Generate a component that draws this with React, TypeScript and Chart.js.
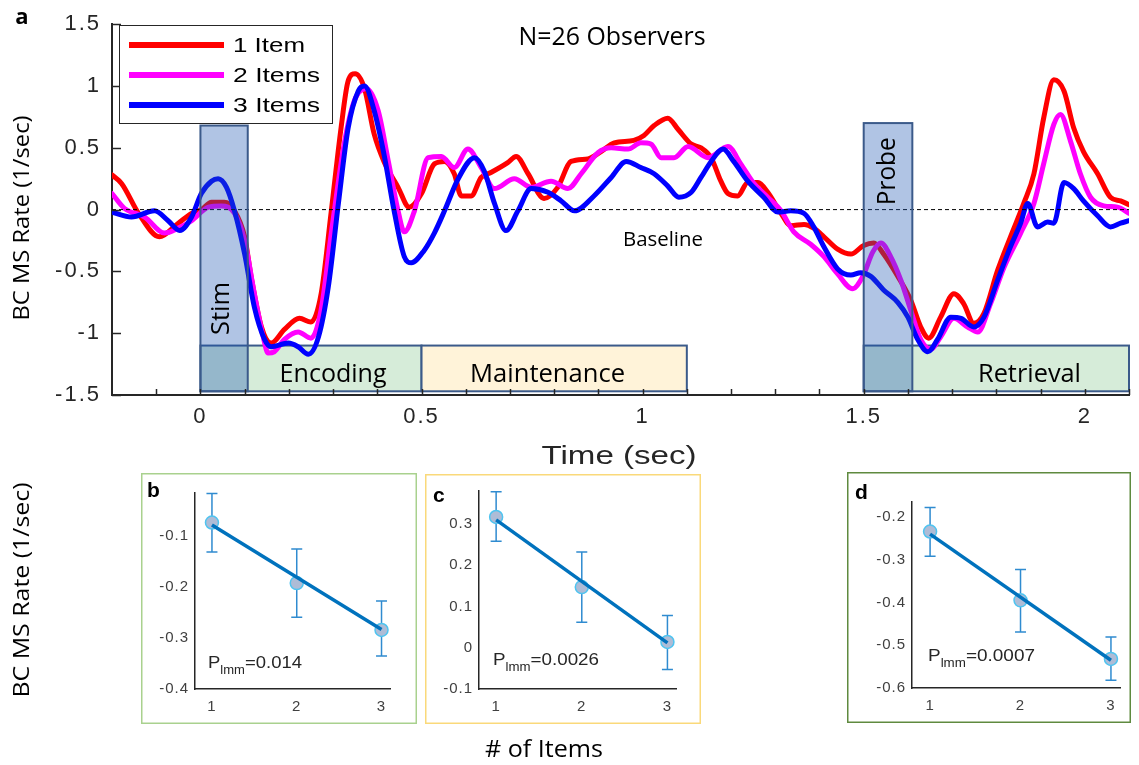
import React, { useEffect, useRef } from 'react';
import { Chart, registerables } from 'chart.js';
Chart.register(...registerables);

// ---------- main panel data ----------
const seriesLabels = ['1 Item', '2 Items', '3 Items'];
const seriesColors = ['#ff0000', '#ff00ff', '#0000ff'];

const time1 = [-0.2,-0.178,-0.14,-0.093,-0.05,-0.02,0.002,0.025,0.054,0.077,0.1,0.115,0.138,0.16,0.19,0.224,0.25,0.273,0.296,0.318,0.334,0.35,0.371,0.393,0.415,0.447,0.472,0.5,0.529,0.552,0.574,0.59,0.612,0.635,0.657,0.695,0.714,0.741,0.777,0.808,0.838,0.876,0.906,0.936,0.98,1.003,1.026,1.057,1.08,1.11,1.132,1.155,1.177,1.193,1.215,1.238,1.261,1.283,1.313,1.335,1.365,1.387,1.41,1.441,1.471,1.5,1.523,1.545,1.577,1.606,1.629,1.647,1.674,1.704,1.726,1.749,1.772,1.803,1.832,1.862,1.885,1.907,1.93,1.953,1.975,1.997,2.029,2.058,2.081,2.1];
const rate1 = [0.28,0.21,-0.03,-0.22,-0.11,-0.03,0.0,0.06,0.06,-0.01,-0.22,-0.55,-0.95,-1.08,-0.97,-0.88,-0.91,-0.68,-0.01,0.66,1.04,1.10,0.98,0.61,0.39,0.18,0.02,0.13,0.37,0.39,0.29,0.11,0.11,0.26,0.30,0.38,0.43,0.29,0.09,0.18,0.39,0.41,0.47,0.54,0.56,0.60,0.68,0.74,0.65,0.53,0.50,0.42,0.23,0.13,0.11,0.22,0.22,0.14,-0.03,-0.13,-0.12,-0.15,-0.22,-0.32,-0.36,-0.29,-0.27,-0.36,-0.54,-0.73,-0.95,-1.04,-0.87,-0.68,-0.76,-0.92,-0.84,-0.49,-0.22,0.05,0.29,0.74,1.05,0.96,0.66,0.47,0.29,0.10,0.07,0.04];

const time2 = [-0.2,-0.172,-0.126,-0.081,-0.05,-0.02,0.018,0.047,0.077,0.1,0.122,0.142,0.153,0.167,0.19,0.221,0.25,0.273,0.296,0.325,0.348,0.375,0.402,0.425,0.447,0.461,0.484,0.515,0.545,0.574,0.605,0.635,0.665,0.71,0.748,0.793,0.831,0.861,0.899,0.929,0.967,0.996,1.019,1.042,1.071,1.103,1.148,1.193,1.222,1.252,1.283,1.313,1.342,1.38,1.41,1.441,1.475,1.498,1.521,1.539,1.561,1.584,1.606,1.629,1.652,1.674,1.704,1.735,1.758,1.787,1.817,1.855,1.885,1.907,1.93,1.945,1.968,1.99,2.013,2.043,2.074,2.1];
const rate2 = [0.13,0.01,-0.06,-0.19,-0.15,-0.09,0.02,0.03,-0.03,-0.25,-0.68,-1.03,-1.16,-1.15,-1.05,-0.99,-1.04,-0.81,-0.19,0.53,0.88,0.98,0.80,0.39,-0.01,-0.18,-0.01,0.42,0.43,0.34,0.49,0.34,0.17,0.25,0.18,0.23,0.17,0.29,0.46,0.50,0.49,0.54,0.53,0.42,0.42,0.51,0.42,0.51,0.37,0.21,0.10,-0.01,-0.18,-0.28,-0.38,-0.52,-0.64,-0.54,-0.34,-0.27,-0.38,-0.57,-0.81,-1.05,-1.13,-1.03,-0.88,-0.95,-0.99,-0.76,-0.47,-0.19,0.05,0.37,0.69,0.77,0.55,0.29,0.10,0.03,0.02,-0.03];

const time3 = [-0.2,-0.156,-0.104,-0.073,-0.047,-0.02,0.002,0.025,0.04,0.059,0.077,0.1,0.122,0.145,0.16,0.199,0.221,0.244,0.267,0.289,0.312,0.334,0.357,0.371,0.393,0.415,0.438,0.461,0.477,0.506,0.529,0.552,0.583,0.62,0.642,0.665,0.691,0.718,0.748,0.786,0.816,0.846,0.89,0.929,0.963,0.996,1.026,1.057,1.082,1.11,1.132,1.155,1.182,1.206,1.238,1.274,1.306,1.335,1.365,1.387,1.41,1.441,1.471,1.493,1.516,1.545,1.577,1.6,1.622,1.645,1.667,1.697,1.72,1.749,1.772,1.803,1.832,1.855,1.871,1.893,1.916,1.93,1.953,1.975,1.997,2.029,2.058,2.081,2.1];
const rate3 = [-0.02,-0.06,-0.01,-0.09,-0.17,-0.06,0.13,0.23,0.25,0.18,-0.01,-0.36,-0.79,-1.05,-1.11,-1.08,-1.11,-1.17,-1.03,-0.63,0.05,0.66,0.96,1.0,0.80,0.45,-0.01,-0.38,-0.43,-0.33,-0.19,-0.01,0.25,0.42,0.31,0.05,-0.17,-0.01,0.17,0.14,0.07,-0.01,0.11,0.26,0.39,0.34,0.29,0.19,0.10,0.14,0.26,0.39,0.49,0.39,0.23,0.10,-0.02,-0.01,-0.03,-0.14,-0.30,-0.48,-0.53,-0.51,-0.54,-0.65,-0.75,-0.87,-1.05,-1.15,-1.05,-0.87,-0.88,-0.95,-0.87,-0.57,-0.30,-0.11,0.05,-0.14,-0.10,-0.11,0.22,0.17,0.07,-0.05,-0.14,-0.11,-0.09];

const mainXRange = [-0.2, 2.1];
const mainYRange = [-1.5, 1.5];
const mainXTicks = [0, 0.5, 1, 1.5, 2];
const mainYTicks = [-1.5, -1, -0.5, 0, 0.5, 1, 1.5];
const baselineValue = 0;

// task epochs
const epochNames = ['Stim', 'Probe', 'Encoding', 'Maintenance', 'Retrieval'];
const epochStart = [0, 1.5, 0, 0.5, 1.5];
const epochEnd = [0.107, 1.61, 0.5, 1.1, 2.1];
const epochTop = [0.68, 0.7, -1.1, -1.1, -1.1];
const epochBottom = -1.47;
const epochLabelX = [0.048, 1.554, 0.3, 0.785, 1.875];
const epochLabelY = [-0.8, 0.31, -1.335, -1.335, -1.335];

// ---------- small panels data ----------
const itemCounts = [1, 2, 3];
const fitX = [1, 3];
const bMean = [-0.073, -0.192, -0.284];
const bLow = [-0.131, -0.259, -0.335];
const bHigh = [-0.016, -0.125, -0.227];
const bFit = [-0.078, -0.283];
const bTicks = [-0.4, -0.3, -0.2, -0.1];

const cMean = [0.317, 0.147, 0.014];
const cLow = [0.258, 0.062, -0.053];
const cHigh = [0.378, 0.232, 0.078];
const cFit = [0.31, 0.012];
const cTicks = [-0.1, 0, 0.1, 0.2, 0.3];

const dMean = [-0.234, -0.395, -0.532];
const dLow = [-0.292, -0.469, -0.582];
const dHigh = [-0.178, -0.323, -0.481];
const dFit = [-0.24, -0.535];
const dTicks = [-0.6, -0.5, -0.4, -0.3, -0.2];

const SANS = '"Liberation Sans", Arial, sans-serif';
const CAL = '"Open Sans", sans-serif';

function drawText(ctx: any, text: string, x: number, y: number, o: any) {
  ctx.save();
  try { ctx.letterSpacing = '0px'; } catch (e) {}
  ctx.font = o.font;
  ctx.fillStyle = o.color || '#000';
  ctx.textBaseline = o.baseline || 'middle';
  ctx.textAlign = 'left';
  ctx.translate(x, y);
  if (o.rotate) ctx.rotate(o.rotate);
  const w = ctx.measureText(text).width;
  const sx = o.width ? o.width / w : 1;
  ctx.scale(sx, 1);
  const align = o.align || 'center';
  const off = align === 'center' ? -w / 2 : align === 'right' ? -w : 0;
  ctx.fillText(text, off, 0);
  ctx.restore();
}

const BOX_STROKE = '#3b5a8a';

const mainPlugin = {
  id: 'mainDeco',
  beforeDraw(chart: any) {
    try { chart.ctx.letterSpacing = '2px'; } catch (e) {}
  },
  beforeDatasetsDraw(chart: any) {
    const { ctx, scales } = chart;
    const x = scales.x, y = scales.y;
    const fills: any = { Encoding: '#d6ecd9', Maintenance: '#fff3d9', Retrieval: '#d6ecd9' };
    ctx.save();
    for (let i = 2; i < epochNames.length; i++) {
      const l = x.getPixelForValue(epochStart[i]);
      const r = x.getPixelForValue(epochEnd[i]);
      const t = y.getPixelForValue(epochTop[i]);
      const b = y.getPixelForValue(epochBottom);
      ctx.fillStyle = fills[epochNames[i]];
      ctx.fillRect(l, t, r - l, b - t);
      ctx.strokeStyle = BOX_STROKE;
      ctx.lineWidth = 2;
      ctx.strokeRect(l, t, r - l, b - t);
    }
    ctx.restore();
  },
  afterDatasetsDraw(chart: any) {
    const { ctx, scales } = chart;
    const x = scales.x, y = scales.y;
    ctx.save();
    for (let i = 0; i < 2; i++) {
      const l = x.getPixelForValue(epochStart[i]);
      const r = x.getPixelForValue(epochEnd[i]);
      const t = y.getPixelForValue(epochTop[i]);
      const b = y.getPixelForValue(epochBottom);
      ctx.fillStyle = 'rgba(29,86,178,0.35)';
      ctx.fillRect(l, t, r - l, b - t);
      ctx.strokeStyle = BOX_STROKE;
      ctx.lineWidth = 2;
      ctx.strokeRect(l, t, r - l, b - t);
    }
    ctx.restore();
    // epoch labels
    const labelW: any = { Stim: 53, Probe: 68, Encoding: 107, Maintenance: 155, Retrieval: 103 };
    epochNames.forEach((n, i) => {
      drawText(ctx, n, x.getPixelForValue(epochLabelX[i]), y.getPixelForValue(epochLabelY[i]), {
        font: `25px ${CAL}`, color: '#000', width: labelW[n], rotate: i < 2 ? -Math.PI / 2 : 0,
      });
    });
    // inward ticks
    ctx.save();
    ctx.strokeStyle = '#262626';
    ctx.lineWidth = 1.5;
    const bottom = chart.chartArea.bottom, left = chart.chartArea.left;
    for (let v = mainXRange[0] + 0.1; v <= mainXRange[1] + 1e-6; v += 0.1) {
      const px = Math.round(x.getPixelForValue(v)) + 0.5;
      ctx.beginPath(); ctx.moveTo(px, bottom); ctx.lineTo(px, bottom - 6); ctx.stroke();
    }
    mainYTicks.forEach((v) => {
      const py = Math.round(y.getPixelForValue(v)) + 0.5;
      ctx.beginPath(); ctx.moveTo(left, py); ctx.lineTo(left + 9, py); ctx.stroke();
    });
    ctx.restore();
    // legend
    ctx.save();
    ctx.fillStyle = '#fff';
    ctx.fillRect(119, 25, 213, 98);
    ctx.strokeStyle = '#262626';
    ctx.lineWidth = 1;
    ctx.strokeRect(119.5, 25.5, 213, 98);
    const legendW = [72, 87, 87];
    chart.data.datasets.slice(0, 3).forEach((ds: any, i: number) => {
      const ly = 45 + i * 30;
      ctx.strokeStyle = ds.borderColor;
      ctx.lineWidth = 6;
      ctx.beginPath(); ctx.moveTo(129, ly); ctx.lineTo(224, ly); ctx.stroke();
      drawText(ctx, ds.label, 233, ly + 1, { font: `21px ${SANS}`, color: '#000', width: legendW[i], align: 'left' });
    });
    ctx.restore();
    // texts
    drawText(ctx, 'N=26 Observers', 612, 38, { font: `25px ${CAL}`, width: 187 });
    drawText(ctx, 'Baseline', 663, 240, { font: `20px ${CAL}`, width: 80 });
  },
  afterDraw(chart: any) {
    const { ctx } = chart;
    drawText(ctx, 'a', 22, 18, { font: `bold 22px ${CAL}` });
    drawText(ctx, 'BC MS Rate (1/sec)', 23, 218, { font: `22px ${CAL}`, width: 205, rotate: -Math.PI / 2 });
    drawText(ctx, 'Time (sec)', 619, 457, { font: `26px ${SANS}`, width: 155, color: '#262626' });
    drawText(ctx, 'BC MS Rate (1/sec)', 23, 590, { font: `22px ${CAL}`, width: 215, rotate: -Math.PI / 2 });
    drawText(ctx, '# of Items', 544, 750, { font: `24px ${CAL}`, width: 118 });
    try { ctx.letterSpacing = '0px'; } catch (e) {}
  },
};

function zip(xs: number[], ys: number[]) {
  return xs.map((v, i) => ({ x: v, y: ys[i] }));
}

function mainConfig(): any {
  const times = [time1, time2, time3];
  const rates = [rate1, rate2, rate3];
  const datasets: any[] = seriesLabels.map((lab, i) => ({
    label: lab,
    data: zip(times[i], rates[i]),
    borderColor: seriesColors[i],
    borderWidth: 5,
    pointRadius: 0,
    cubicInterpolationMode: 'monotone',
    borderJoinStyle: 'round',
    borderCapStyle: 'round',
    order: 3 - i,
  }));
  datasets.push({
    label: 'Baseline',
    data: zip(mainXRange, [baselineValue, baselineValue]),
    borderColor: '#000',
    borderWidth: 1,
    borderDash: [4, 3],
    pointRadius: 0,
    order: 0,
  });
  return {
    type: 'line',
    data: { datasets },
    options: {
      responsive: false,
      animation: false,
      events: [],
      layout: { padding: { top: 22, right: 10, left: 0, bottom: 0 } },
      plugins: { legend: { display: false }, tooltip: { enabled: false }, title: { display: false } },
      scales: {
        x: {
          type: 'linear', min: mainXRange[0], max: mainXRange[1],
          afterBuildTicks: (s: any) => { s.ticks = mainXTicks.map((v) => ({ value: v })); },
          afterFit: (s: any) => { s.height = 765 - 395; },
          grid: { display: false, drawTicks: false },
          border: { display: true, color: '#262626', width: 2 },
          ticks: { color: '#262626', font: { family: SANS, size: 22 }, padding: 9, maxRotation: 0, autoSkip: false, callback: (v: any) => String(v) },
        },
        y: {
          type: 'linear', min: mainYRange[0], max: mainYRange[1],
          afterBuildTicks: (s: any) => { s.ticks = mainYTicks.map((v) => ({ value: v })); },
          afterFit: (s: any) => { s.width = 112; },
          grid: { display: false, drawTicks: false },
          border: { display: true, color: '#262626', width: 2 },
          ticks: { color: '#262626', font: { family: SANS, size: 22 }, padding: 11, autoSkip: false, callback: (v: any) => String(v) },
        },
      },
    },
    plugins: [mainPlugin],
  };
}

function panelConfig(p: any): any {
  const plugin = {
    id: 'panel' + p.letter,
    beforeDraw(chart: any) {
      try { chart.ctx.letterSpacing = '1px'; } catch (e) {}
    },
    beforeDatasetsDraw(chart: any) {
      const { ctx, scales } = chart;
      ctx.save();
      ctx.strokeStyle = '#2f8bd0';
      ctx.lineWidth = 1.5;
      itemCounts.forEach((c, i) => {
        const px = scales.x.getPixelForValue(c);
        const lo = scales.y.getPixelForValue(p.low[i]);
        const hi = scales.y.getPixelForValue(p.high[i]);
        ctx.beginPath();
        ctx.moveTo(px, lo); ctx.lineTo(px, hi);
        ctx.moveTo(px - 5.5, lo); ctx.lineTo(px + 5.5, lo);
        ctx.moveTo(px - 5.5, hi); ctx.lineTo(px + 5.5, hi);
        ctx.stroke();
      });
      ctx.restore();
    },
    afterDraw(chart: any) {
      const { ctx, width, height } = chart;
      ctx.save();
      try { ctx.letterSpacing = '0px'; } catch (e) {}
      ctx.strokeStyle = p.frame;
      ctx.lineWidth = 1.5;
      ctx.strokeRect(0.75, 0.75, width - 1.5, height - 1.5);
      ctx.restore();
      drawText(ctx, p.letter, p.letterPos[0], p.letterPos[1], { font: `bold 21px ${SANS}`, align: 'left' });
      // P_lmm text
      ctx.save();
      try { ctx.letterSpacing = '0px'; } catch (e) {}
      const big = `17px ${SANS}`, small = `12px ${SANS}`;
      ctx.font = big; const w1 = ctx.measureText('P').width;
      const w3 = ctx.measureText(p.pval).width;
      ctx.font = small; const w2 = ctx.measureText('lmm').width;
      const total = w1 + w2 + w3;
      const sx = p.pWidth / total;
      ctx.translate(p.pPos[0], p.pPos[1]);
      ctx.scale(sx, 1);
      ctx.fillStyle = '#262626';
      ctx.textBaseline = 'alphabetic';
      ctx.textAlign = 'left';
      ctx.font = big; ctx.fillText('P', 0, 0);
      ctx.font = small; ctx.fillText('lmm', w1, 6);
      ctx.font = big; ctx.fillText(p.pval, w1 + w2, 0);
      ctx.restore();
      try { ctx.letterSpacing = '0px'; } catch (e) {}
    },
  };
  return {
    type: 'line',
    data: {
      datasets: [
        { data: zip(fitX, p.fit), borderColor: '#0072bd', borderWidth: 3.5, pointRadius: 0, order: 0 },
        {
          data: zip(itemCounts, p.mean), showLine: false, pointRadius: 6.5,
          pointBackgroundColor: '#aebcd6', pointBorderColor: '#4fc4f0', pointBorderWidth: 1.5, order: 1,
        },
      ],
    },
    options: {
      responsive: false,
      animation: false,
      events: [],
      layout: { padding: { top: p.padTop, right: p.padRight, left: 0, bottom: 0 } },
      plugins: { legend: { display: false }, tooltip: { enabled: false } },
      scales: {
        x: {
          type: 'linear', min: 0.8, max: 3.1,
          afterBuildTicks: (s: any) => { s.ticks = itemCounts.map((v) => ({ value: v })); },
          afterFit: (s: any) => { s.height = p.bottomSpace; },
          grid: { display: false, drawTicks: false },
          border: { display: true, color: '#262626', width: 1.5 },
          ticks: { color: '#404040', font: { family: SANS, size: 15 }, padding: 9, maxRotation: 0, autoSkip: false, callback: (v: any) => String(v) },
        },
        y: {
          type: 'linear', min: p.yMin, max: p.yMax,
          afterBuildTicks: (s: any) => { s.ticks = p.ticks.map((v: number) => ({ value: v })); },
          afterFit: (s: any) => { s.width = p.yWidth; },
          grid: { display: false, drawTicks: false },
          border: { display: true, color: '#262626', width: 1.5 },
          ticks: { color: '#404040', font: { family: SANS, size: 15 }, padding: 6, autoSkip: false, callback: (v: any) => String(Math.round(v * 10) / 10) },
        },
      },
    },
    plugins: [plugin],
  };
}

const panels = [
  { letter: 'b', left: 141, top: 473, w: 276, h: 251, padTop: 20, padRight: 27, yWidth: 54, bottomSpace: 35,
    yMin: -0.4, yMax: -0.015, ticks: bTicks, mean: bMean, low: bLow, high: bHigh, fit: bFit,
    frame: '#a9d18e', letterPos: [6, 18], pval: '=0.014', pPos: [67, 195], pWidth: 94 },
  { letter: 'c', left: 425, top: 474, w: 276, h: 250, padTop: 17, padRight: 25, yWidth: 54, bottomSpace: 35,
    yMin: -0.1, yMax: 0.38, ticks: cTicks, mean: cMean, low: cLow, high: cHigh, fit: cFit,
    frame: '#fad97a', letterPos: [8, 22], pval: '=0.0026', pPos: [68, 191], pWidth: 106 },
  { letter: 'd', left: 847, top: 472, w: 284, h: 251, padTop: 30, padRight: 11, yWidth: 65, bottomSpace: 35,
    yMin: -0.6, yMax: -0.165, ticks: dTicks, mean: dMean, low: dLow, high: dHigh, fit: dFit,
    frame: '#5f8a3f', letterPos: [8, 21], pval: '=0.0007', pPos: [81, 189], pWidth: 107 },
];

export default function App() {
  const mainRef = useRef<HTMLCanvasElement>(null);
  const p0 = useRef<HTMLCanvasElement>(null);
  const p1 = useRef<HTMLCanvasElement>(null);
  const p2 = useRef<HTMLCanvasElement>(null);
  useEffect(() => {
    const charts: Chart[] = [];
    charts.push(new Chart(mainRef.current as HTMLCanvasElement, mainConfig()));
    [p0, p1, p2].forEach((r, i) => {
      charts.push(new Chart(r.current as HTMLCanvasElement, panelConfig(panels[i])));
    });
    return () => charts.forEach((c) => c.destroy());
  }, []);
  const refs = [p0, p1, p2];
  return (
    <div style={{ position: 'absolute', left: 0, top: 0, width: 1139, height: 765, background: '#fff', overflow: 'hidden' }}>
      <canvas ref={mainRef} width={1139} height={765} style={{ position: 'absolute', left: 0, top: 0, display: 'block' }} />
      {panels.map((p, i) => (
        <canvas key={p.letter} ref={refs[i]} width={p.w} height={p.h}
          style={{ position: 'absolute', left: p.left, top: p.top, display: 'block' }} />
      ))}
    </div>
  );
}
